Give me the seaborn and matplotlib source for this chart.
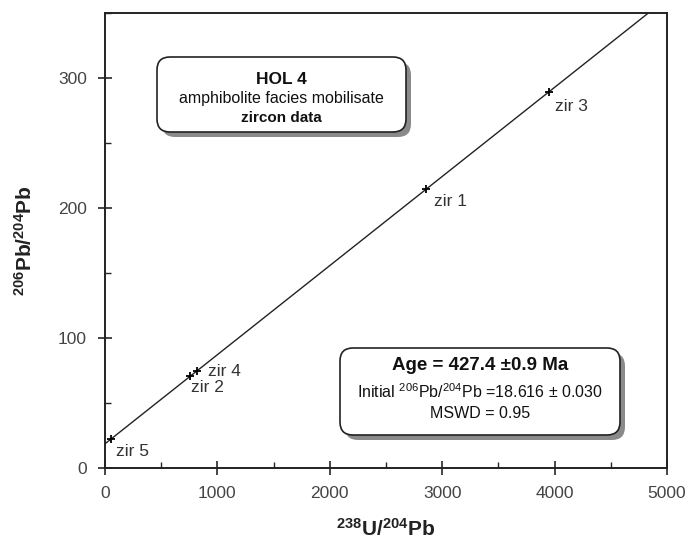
import numpy as np
import matplotlib
matplotlib.use("Agg")
import matplotlib.pyplot as plt
from matplotlib.patches import FancyBboxPatch
from matplotlib.ticker import MultipleLocator
import seaborn as sns

# isochron data
labels = ["zir 1", "zir 2", "zir 3", "zir 4", "zir 5"]
u238_pb204 = [2860, 760, 3950, 815, 50]
pb206_pb204 = [214.7, 70.7, 289.4, 74.5, 22.0]

initial_ratio = 18.616
age_ma = 427.4
lambda_238 = 1.55125e-10  # per year
slope = np.exp(lambda_238 * age_ma * 1e6) - 1
line_x = [0, 5000]

# label offsets in pixels (dx, dy)
label_off = {"zir 1": (8, -13), "zir 2": (1, -11), "zir 3": (6, -15),
             "zir 4": (11, 0), "zir 5": (5, -12)}

sns.set_style("white")
plt.rcParams["font.family"] = ["Liberation Sans", "DejaVu Sans"]
plt.rcParams["mathtext.fontset"] = "custom"
plt.rcParams["mathtext.rm"] = "Liberation Sans"
plt.rcParams["mathtext.bf"] = "Liberation Sans:bold"

fig = plt.figure(figsize=(6.87, 5.48), dpi=100)
ax = fig.add_axes([105 / 687, 1 - 468 / 548, 562 / 687, 455 / 548])

line_y = [initial_ratio + slope * v for v in line_x]
sns.lineplot(x=line_x, y=line_y, ax=ax, color="#222222", linewidth=1.0)
sns.scatterplot(x=u238_pb204, y=pb206_pb204, ax=ax, marker="+", color="black",
                s=30, linewidth=1.3, zorder=3)

for lab, xv, yv in zip(labels, u238_pb204, pb206_pb204):
    dx, dy = label_off[lab]
    ax.annotate(lab, (xv, yv), xytext=(dx, dy), textcoords="offset pixels",
                ha="left", va="center", fontsize=12.5, color="#333333")

ax.set_xlim(0, 5000)
ax.set_ylim(0, 350)
ax.xaxis.set_major_locator(MultipleLocator(1000))
ax.xaxis.set_minor_locator(MultipleLocator(500))
ax.yaxis.set_major_locator(MultipleLocator(100))
ax.yaxis.set_minor_locator(MultipleLocator(50))
ax.tick_params(which="major", direction="inout", length=10, width=1.2,
               labelsize=12.5, labelcolor="#444444", pad=8)
ax.tick_params(which="minor", direction="in", length=4, width=1.0)
ax.tick_params(axis="x", which="both", bottom=True, top=False)
ax.tick_params(axis="y", which="both", left=True, right=False)
for sp in ax.spines.values():
    sp.set_visible(True)
    sp.set_color("#222222")
    sp.set_linewidth(1.4)

ax.set_xlabel(r"$\mathbf{^{238}U/^{204}Pb}$", fontsize=15, labelpad=12, color="#222222")
ax.set_ylabel(r"$\mathbf{^{206}Pb/^{204}Pb}$", fontsize=15, labelpad=16, color="#222222")


def draw_box(left, top, right, bottom, lines):
    # pixel coords (from top-left) -> inches
    x0, x1 = left / 100, right / 100
    y0, y1 = (548 - bottom) / 100, (548 - top) / 100
    shadow = FancyBboxPatch((x0 + 0.05, y0 - 0.05), x1 - x0, y1 - y0,
                            boxstyle="round,pad=0,rounding_size=0.13",
                            transform=fig.dpi_scale_trans, facecolor="#8a8a8a",
                            edgecolor="none", zorder=5)
    box = FancyBboxPatch((x0, y0), x1 - x0, y1 - y0,
                         boxstyle="round,pad=0,rounding_size=0.13",
                         transform=fig.dpi_scale_trans, facecolor="white",
                         edgecolor="#222222", linewidth=1.2, zorder=6)
    fig.patches.extend([shadow, box])
    cx = (left + right) / 2
    for txt, py, size, weight in lines:
        fig.text(cx / 687, 1 - py / 548, txt, ha="center", va="center",
                 fontsize=size, fontweight=weight, color="#111111", zorder=7)


draw_box(157, 57, 406, 132, [
    ("HOL 4", 79, 12.5, "bold"),
    ("amphibolite facies mobilisate", 99, 11.5, "normal"),
    ("zircon data", 118, 11, "bold"),
])
draw_box(340, 348, 620, 435, [
    ("Age = 427.4 \u00b10.9 Ma", 366, 13.5, "bold"),
    ("Initial $^{206}$Pb/$^{204}$Pb =18.616 \u00b1 0.030", 392, 11.5, "normal"),
    ("MSWD = 0.95", 413, 11.5, "normal"),
])

fig.savefig("out.png", dpi=100, facecolor="white")
